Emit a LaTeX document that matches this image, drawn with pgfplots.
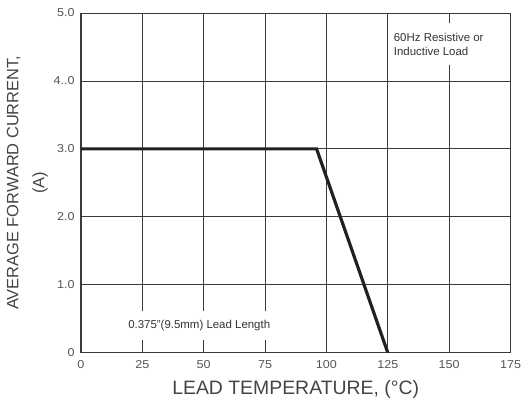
\documentclass[border=0pt]{standalone}
\usepackage{pgfplots}
\pgfplotsset{compat=1.18}
\usepackage{fontspec}
\setmainfont{Liberation Sans}
\newfontfamily\tickfont[FakeStretch=1.1]{Liberation Sans}
\definecolor{gridc}{HTML}{3A3A3A}
\definecolor{labc}{HTML}{555555}
\definecolor{titc}{HTML}{444444}
\begin{document}
\begin{tikzpicture}
\begin{axis}[
    scale only axis,
    width=430bp, height=340bp,
    xmin=0, xmax=175, ymin=0, ymax=5,
    xtick={0,25,...,175},
    ytick={0,1,2,3,4,5},
    yticklabels={0,1.0,2.0,3.0,4..0,5.0},
    major tick length=0pt,
    grid=major,
    major grid style={gridc, line width=0.8pt},
    axis line style={gridc, line width=0.9pt},
    tick label style={font=\tickfont\fontsize{11.5}{13}\selectfont, text=labc, inner sep=0pt},
    xticklabel style={yshift=-8bp},
    yticklabel style={xshift=-6bp},
    /pgf/number format/assume math mode=true,
    xlabel={LEAD TEMPERATURE, (°C)},
    ylabel={AVERAGE FORWARD CURRENT,\\(A)},
    xlabel style={at={(axis description cs:0.5,-0.0824)}, anchor=north, inner sep=0pt,
                  font=\fontsize{19.5}{22}\selectfont, text=titc},
    ylabel style={at={(axis description cs:-0.0767,0.5)}, anchor=south, inner sep=0pt,
                  align=center, font=\fontsize{16.5}{26}\selectfont, text=titc},
]
\addplot[black!87, line width=3.2pt] coordinates {(0,3) (96,3) (125,0)};
\node[fill=white, anchor=west, align=left, inner xsep=1bp, inner ysep=10bp,
      font=\fontsize{11.5}{13.7}\selectfont, text=black!80]
      at (axis cs:127,4.54) {60Hz Resistive or\\Inductive Load};
\node[fill=white, inner xsep=2bp, inner ysep=9bp,
      font=\fontsize{11.5}{13.7}\selectfont, text=black!80]
      at (axis cs:48.2,0.4) {0.375"(9.5mm) Lead Length};
\coordinate (O) at (rel axis cs:0,0);
\end{axis}
\path (O) ++(-81bp,-52bp) rectangle ++(521bp,405bp);
\end{tikzpicture}
\end{document}
